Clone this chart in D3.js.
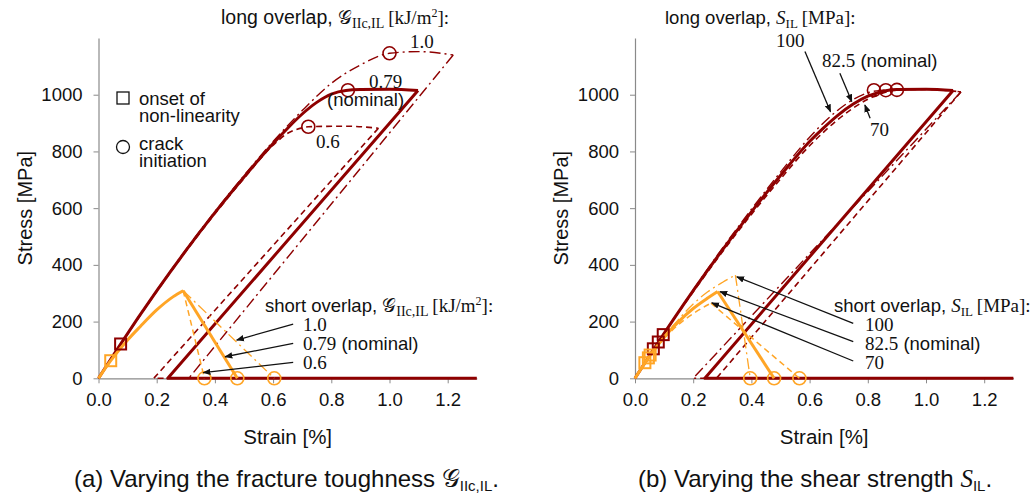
<!DOCTYPE html>
<html>
<head>
<meta charset="utf-8">
<script src="https://cdn.jsdelivr.net/npm/d3@7"></script>
<style>
  body { margin: 0; background: #fff; }
  text { font-family: "Liberation Sans", Arial, sans-serif; fill: #111; }
  .serif { font-family: "Liberation Serif", "Times New Roman", serif; }
  .axis path, .axis line { stroke: #8a8a8a; }
  .axis text { font-size: 18.5px; fill: #111; }
</style>
</head>
<body>
<svg id="chart" width="1033" height="496"></svg>
<script>
let w = 1033;
let h = 496;
const red = "#8e0000";
const orange = "#ffa526";

const xTicks = [0, 0.2, 0.4, 0.6, 0.8, 1.0, 1.2];
const yTicks = [0, 200, 400, 600, 800, 1000];

// (a) fracture toughness, long overlap: [strain %, stress MPa]
const aLongNomLoad = [[0, 0], [0.076, 121], [0.2, 308], [0.3, 450], [0.4, 584], [0.5, 710], [0.6, 828], [0.65, 882], [0.7, 932], [0.75, 973], [0.8, 1002], [0.85, 1015], [0.9, 1018], [1.0, 1019], [1.098, 1015]];
const aLongNomUnload = [[1.098, 1015], [0.238, 0], [1.3, 0]];
const aLongHiLoad = [[0, 0], [0.2, 310], [0.3, 453], [0.4, 588], [0.5, 715], [0.6, 835], [0.7, 944], [0.8, 1040], [0.9, 1105], [1.0, 1146], [1.1, 1152], [1.219, 1140]];
const aLongHiUnload = [[1.219, 1140], [0.31, 0], [1.3, 0]];
const aLongLoLoad = [[0, 0], [0.2, 306], [0.3, 447], [0.4, 580], [0.5, 705], [0.6, 822], [0.65, 864], [0.7, 883], [0.721, 887], [0.85, 889], [0.962, 882]];
const aLongLoUnload = [[0.962, 882], [0.19, 0], [1.3, 0]];
// (a) short overlap
const aShortLoad = [[0, 0], [0.042, 62], [0.1, 135], [0.143, 182], [0.2, 241], [0.257, 288], [0.291, 309]];
const aShortLoDrop = [[0.291, 309], [0.364, 0]];
const aShortNomDrop = [[0.291, 309], [0.477, 0]];
const aShortHiDrop = [[0.291, 309], [0.604, 0]];
const aRedSquares = [[0.076, 121]];
const aOrangeSquares = [[0.042, 62]];
const aRedCircles = [[0.857, 1016], [1.0, 1146], [0.721, 887]];
const aOrangeCircles = [[0.364, 0], [0.477, 0], [0.604, 0]];

// (b) shear strength, long overlap
const bLongNomLoad = [[0, 0], [0.08, 127], [0.2, 309], [0.3, 452], [0.4, 587], [0.5, 715], [0.6, 835], [0.65, 885], [0.7, 930], [0.75, 967], [0.8, 995], [0.862, 1014], [0.9, 1018], [1.0, 1019], [1.093, 1015]];
const bLongNomUnload = [[1.093, 1015], [0.24, 0], [1.3, 0]];
const bLongHiLoad = [[0, 0], [0.097, 154], [0.2, 312], [0.3, 458], [0.4, 596], [0.5, 727], [0.6, 850], [0.65, 903], [0.7, 948], [0.75, 983], [0.8, 1007], [0.85, 1016], [0.9, 1019], [1.0, 1019], [1.12, 1010]];
const bLongHiUnload = [[1.12, 1010], [0.2, 0], [1.3, 0]];
const bLongLoLoad = [[0, 0], [0.063, 102], [0.2, 305], [0.3, 445], [0.4, 578], [0.5, 703], [0.6, 820], [0.65, 870], [0.7, 915], [0.75, 953], [0.8, 984], [0.85, 1005], [0.9, 1016], [1.0, 1019], [1.12, 1010]];
const bLongLoUnload = [[1.12, 1010], [0.28, 0], [1.3, 0]];
// (b) short overlap
const bShortNomLoad = [[0, 0], [0.046, 72], [0.1, 145], [0.15, 200], [0.2, 246], [0.25, 283], [0.284, 306]];
const bShortNomDrop = [[0.284, 306], [0.478, 0]];
const bShortHiLoad = [[0, 0], [0.052, 82], [0.1, 148], [0.15, 208], [0.2, 262], [0.25, 305], [0.3, 338], [0.345, 364]];
const bShortHiDrop = [[0.345, 364], [0.396, 0]];
const bShortLoLoad = [[0, 0], [0.034, 55], [0.1, 140], [0.15, 190], [0.2, 228], [0.261, 265]];
const bShortLoDrop = [[0.261, 265], [0.565, 0]];
const bRedSquares = [[0.063, 104], [0.08, 128], [0.097, 154]];
const bOrangeSquares = [[0.034, 55], [0.046, 72], [0.052, 82]];
const bRedCircles = [[0.821, 1016], [0.862, 1016], [0.9, 1017]];
const bOrangeCircles = [[0.396, 0], [0.478, 0], [0.565, 0]];

const dashed = "6,4";
const dashDot = "11,4,2,4";

let svg = d3.select("#chart").attr("width", w).attr("height", h);

svg.append("defs").append("marker")
  .attr("id", "arrow")
  .attr("viewBox", "0 0 10 10")
  .attr("refX", 9).attr("refY", 5)
  .attr("markerWidth", 8).attr("markerHeight", 8)
  .attr("markerUnits", "userSpaceOnUse")
  .attr("orient", "auto")
  .append("path")
  .attr("d", "M0,1 L10,5 L0,9 Z")
  .attr("fill", "#111");

function rich(x, y, pieces, size) {
  let t = svg.append("text").attr("x", x).attr("y", y).attr("font-size", size || 18.5);
  pieces.forEach(function (p) {
    let s = t.append("tspan").text(p[0]);
    if (p[1]) s.attr("class", p[1]);
    if (p[2]) s.attr("font-size", p[2]);
    if (p[3]) s.attr("dy", p[3]);
    if (p[4]) s.attr("font-style", p[4]);
  });
  return t;
}

function panel(left, p) {
  let x = d3.scaleLinear().domain([0, 1.3]).range([left, left + 378.3]);
  let y = d3.scaleLinear().domain([0, 1200]).range([378.3, 38]);

  svg.append("g")
    .attr("class", "axis")
    .attr("transform", "translate(" + x(0) + ",0)")
    .call(d3.axisLeft(y).tickValues(yTicks).tickFormat(d3.format("d")).tickSize(5).tickPadding(11).tickSizeOuter(0))
    .select(".domain").attr("stroke-width", 1.2);

  svg.append("g")
    .attr("class", "axis")
    .attr("transform", "translate(0," + y(0) + ")")
    .call(d3.axisBottom(x).tickValues(xTicks).tickFormat(d3.format(".1f")).tickSize(5).tickPadding(10).tickSizeOuter(0))
    .select(".domain").attr("stroke-width", 1.2);

  svg.append("text")
    .attr("text-anchor", "middle")
    .attr("font-size", 20.5)
    .attr("x", x(0.65)).attr("y", 444)
    .text("Strain [%]");

  svg.append("text")
    .attr("text-anchor", "middle")
    .attr("font-size", 20)
    .attr("transform", "translate(" + (left - 67) + "," + y(600) + ") rotate(-90)")
    .text("Stress [MPa]");

  let smooth = d3.line().x(d => x(d[0])).y(d => y(d[1])).curve(d3.curveMonotoneX);
  let straight = d3.line().x(d => x(d[0])).y(d => y(d[1]));

  p.curves.forEach(function (c) {
    svg.append("path")
      .attr("d", (c.smooth ? smooth : straight)(c.pts))
      .attr("fill", "none")
      .attr("stroke", c.color)
      .attr("stroke-width", c.width)
      .attr("stroke-dasharray", c.dash || null)
      .attr("stroke-linejoin", "round");
  });

  p.squares.forEach(function (s) {
    svg.selectAll(null).data(s.pts).enter().append("rect")
      .attr("x", d => x(d[0]) - 5.5).attr("y", d => y(d[1]) - 5.5)
      .attr("width", 11).attr("height", 11)
      .attr("fill", "none").attr("stroke", s.color).attr("stroke-width", 2);
  });
  p.circles.forEach(function (s) {
    svg.selectAll(null).data(s.pts).enter().append("circle")
      .attr("cx", d => x(d[0])).attr("cy", d => y(d[1])).attr("r", 6.5)
      .attr("fill", "none").attr("stroke", s.color).attr("stroke-width", 1.6);
  });

  p.arrows.forEach(function (a) {
    svg.append("line")
      .attr("x1", x(a[0][0])).attr("y1", y(a[0][1]))
      .attr("x2", x(a[1][0])).attr("y2", y(a[1][1]))
      .attr("stroke", "#111").attr("stroke-width", 1.3)
      .attr("marker-end", "url(#arrow)");
  });
}

panel(98.5, {
  curves: [
    { pts: aLongLoLoad, smooth: true, color: red, width: 1.6, dash: dashed },
    { pts: aLongLoUnload, color: red, width: 1.6, dash: dashed },
    { pts: aLongHiLoad, smooth: true, color: red, width: 1.4, dash: dashDot },
    { pts: aLongHiUnload, color: red, width: 1.4, dash: dashDot },
    { pts: aLongNomLoad, smooth: true, color: red, width: 3 },
    { pts: aLongNomUnload, color: red, width: 3 },
    { pts: aShortLoDrop, color: orange, width: 1.5, dash: dashed },
    { pts: aShortHiDrop, color: orange, width: 1.3, dash: dashDot },
    { pts: aShortLoad, smooth: true, color: orange, width: 3 },
    { pts: aShortNomDrop, color: orange, width: 3 }
  ],
  squares: [{ pts: aRedSquares, color: red }, { pts: aOrangeSquares, color: orange }],
  circles: [{ pts: aRedCircles, color: red }, { pts: aOrangeCircles, color: orange }],
  arrows: [
    [[0.669, 191], [0.475, 135]],
    [[0.669, 123], [0.435, 76]],
    [[0.669, 56], [0.36, 20]]
  ]
});

panel(635, {
  curves: [
    { pts: bLongLoLoad, smooth: true, color: red, width: 1.6, dash: dashed },
    { pts: bLongLoUnload, color: red, width: 1.6, dash: dashed },
    { pts: bLongHiLoad, smooth: true, color: red, width: 1.4, dash: dashDot },
    { pts: bLongHiUnload, color: red, width: 1.4, dash: dashDot },
    { pts: bLongNomLoad, smooth: true, color: red, width: 3 },
    { pts: bLongNomUnload, color: red, width: 3 },
    { pts: bShortLoLoad, smooth: true, color: orange, width: 1.5, dash: dashed },
    { pts: bShortLoDrop, color: orange, width: 1.5, dash: dashed },
    { pts: bShortHiLoad, smooth: true, color: orange, width: 1.3, dash: dashDot },
    { pts: bShortHiDrop, color: orange, width: 1.3, dash: dashDot },
    { pts: bShortNomLoad, smooth: true, color: orange, width: 3 },
    { pts: bShortNomDrop, color: orange, width: 3 }
  ],
  squares: [{ pts: bRedSquares, color: red }, { pts: bOrangeSquares, color: orange }],
  circles: [{ pts: bRedCircles, color: red }, { pts: bOrangeCircles, color: orange }],
  arrows: [
    [[0.75, 194], [0.35, 358]],
    [[0.75, 129], [0.292, 306]],
    [[0.75, 61], [0.264, 266]],
    [[0.584, 1152], [0.672, 940]],
    [[0.704, 1076], [0.745, 976]],
    [[0.808, 917], [0.79, 964]]
  ]
});

// legend (a)
svg.append("rect").attr("x", 117).attr("y", 92).attr("width", 12).attr("height", 12)
  .attr("fill", "none").attr("stroke", "#111").attr("stroke-width", 1.3);
svg.append("circle").attr("cx", 123).attr("cy", 147).attr("r", 6.5)
  .attr("fill", "none").attr("stroke", "#111").attr("stroke-width", 1.3);
rich(139, 105, [["onset of"]]);
rich(139, 122, [["non-linearity"]]);
rich(139, 150, [["crack"]]);
rich(139, 167, [["initiation"]]);

// annotations (a)
const G = "\u{1D4A2}";
rich(221, 24, [["long overlap, ", null, 19.5], [G, "serif", 19], ["IIc,IL", "serif", 14, 4], ["\u2009[kJ/m", "serif", 19, -4], ["2", "serif", 12, -7], ["]:", "serif", 19, 7]]);
rich(410, 48, [["1.0", "serif", 19]]);
rich(369, 88, [["0.79", "serif", 19]]);
rich(327, 106, [["(nominal)"]]);
rich(316, 148, [["0.6", "serif", 19]]);
rich(265, 312, [["short overlap, "], [G, "serif", 19], ["IIc,IL", "serif", 14, 4], ["\u2009[kJ/m", "serif", 19, -4], ["2", "serif", 12, -7], ["]:", "serif", 19, 7]]);
rich(303, 331, [["1.0", "serif", 19]]);
rich(303, 350, [["0.79", "serif", 19], [" (nominal)"]]);
rich(303, 369, [["0.6", "serif", 19]]);

// annotations (b)
rich(665, 24, [["long overlap, "], ["S", "serif", 19, null, "italic"], ["IL", "serif", 13, 4], ["\u2009[MPa]:", "serif", 19, -4]]);
rich(776, 47, [["100", "serif", 19]]);
rich(822, 67, [["82.5", "serif", 19], [" (nominal)"]]);
rich(870, 136, [["70", "serif", 19]]);
rich(834, 312, [["short overlap, "], ["S", "serif", 19, null, "italic"], ["IL", "serif", 13, 4], ["\u2009[MPa]:", "serif", 19, -4]]);
rich(865, 331, [["100", "serif", 19]]);
rich(865, 350, [["82.5", "serif", 19], [" (nominal)"]]);
rich(865, 369, [["70", "serif", 19]]);

// captions
rich(74, 487, [["(a) Varying the fracture toughness "], [G, "serif", 25], ["IIc,IL", null, 15, 4], [".", null, 24, -4]], 24);
rich(638, 487, [["(b) Varying the shear strength "], ["S", "serif", 25, null, "italic"], ["IL", null, 15, 4], [".", null, 24, -4]], 24);
</script>
</body>
</html>
